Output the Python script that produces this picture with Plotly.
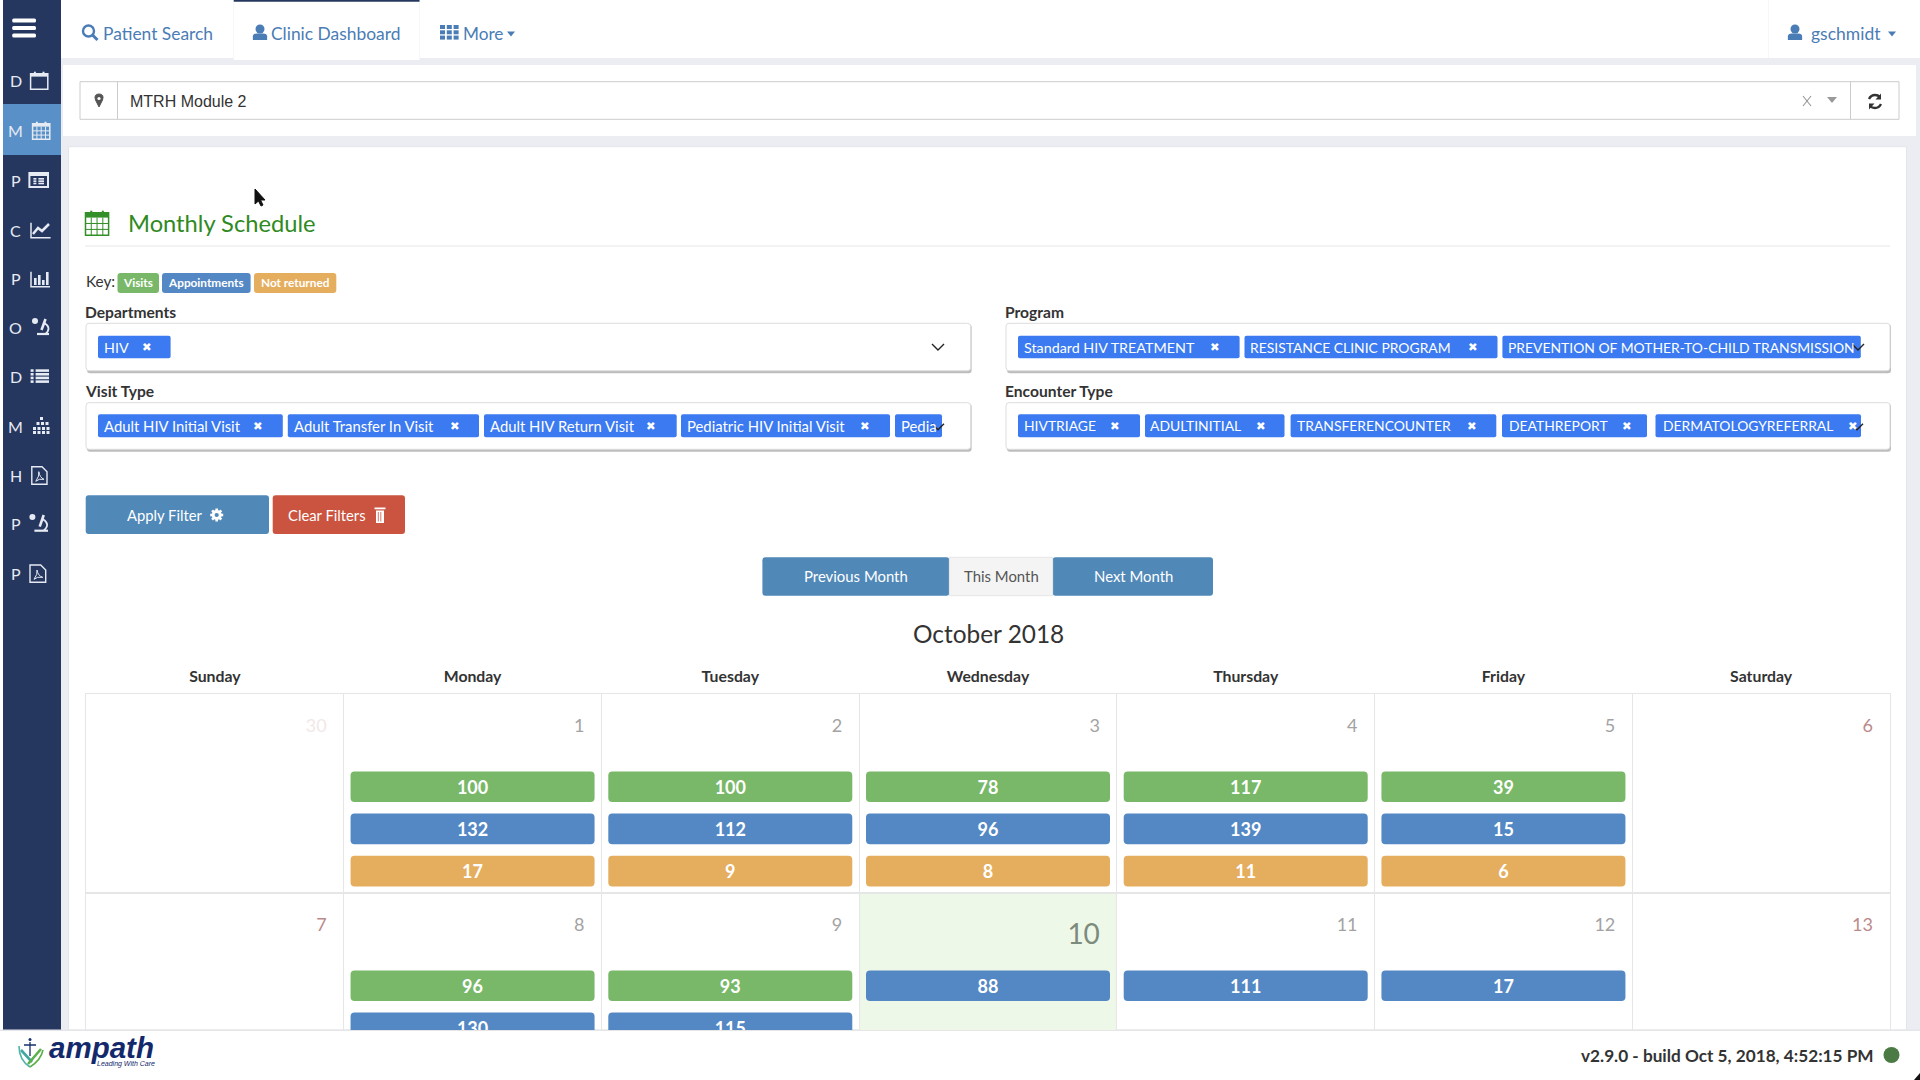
import math
import plotly.graph_objects as go

# ---------- data ----------
weekdays = ["Sunday", "Monday", "Tuesday", "Wednesday", "Thursday", "Friday", "Saturday"]
days = [30, 1, 2, 3, 4, 5, 6, 7, 8, 9, 10, 11, 12, 13]
visits = [None, 100, 100, 78, 117, 39, None, None, 96, 93, None, None, None, None]
appointments = [None, 132, 112, 96, 139, 15, None, None, 130, 115, 88, 111, 17, None]
not_returned = [None, 17, 9, 8, 11, 6, None, None, None, None, None, None, None, None]
today = 10
nav_items = ["Patient Search", "Clinic Dashboard", "More"]
side_letters = ["D", "M", "P", "C", "P", "O", "D", "M", "H", "P", "P"]
departments = ["HIV"]
programs = ["Standard HIV TREATMENT", "RESISTANCE CLINIC PROGRAM", "PREVENTION OF MOTHER-TO-CHILD TRANSMISSION"]
visit_types = ["Adult HIV Initial Visit", "Adult Transfer In Visit", "Adult HIV Return Visit", "Pediatric HIV Initial Visit", "Pedia"]
encounter_types = ["HIVTRIAGE", "ADULTINITIAL", "TRANSFERENCOUNTER", "DEATHREPORT", "DERMATOLOGYREFERRAL"]

# ---------- style ----------
FONT = "Lato"
NAVY = "#26375f"
LINK = "#4a7cb5"
GREEN = "#78b868"
BLUE = "#5488c4"
ORANGE = "#e5ae5f"
TAG = "#3b7af0"
BTN = "#5088b8"
RED = "#ca5440"
GRID = "#e6e6e6"
SIDE = "#e6ebf3"

shapes, notes = [], []


def rr(x0, y0, x1, y1, fill, line=None, lw=0, r=0):
    if r:
        p = (f"M{x0+r},{y0} L{x1-r},{y0} Q{x1},{y0} {x1},{y0+r} L{x1},{y1-r} Q{x1},{y1} {x1-r},{y1} "
             f"L{x0+r},{y1} Q{x0},{y1} {x0},{y1-r} L{x0},{y0+r} Q{x0},{y0} {x0+r},{y0} Z")
    else:
        p = f"M{x0},{y0} L{x1},{y0} L{x1},{y1} L{x0},{y1} Z"
    shapes.append(dict(type="path", path=p, xref="x", yref="y", layer="below", fillcolor=fill,
                       line=dict(color=line or "rgba(0,0,0,0)", width=lw)))


def pth(p, color, lw=1.5, fill=None):
    shapes.append(dict(type="path", path=p, xref="x", yref="y", layer="above",
                       fillcolor=fill or "rgba(0,0,0,0)", line=dict(color=color if lw else "rgba(0,0,0,0)", width=lw)))


def circ(cx, cy, r, fillc=None, line=None, lw=0):
    shapes.append(dict(type="circle", xref="x", yref="y", layer="above", x0=cx - r, x1=cx + r, y0=cy - r, y1=cy + r,
                       fillcolor=fillc or "rgba(0,0,0,0)", line=dict(color=line or "rgba(0,0,0,0)", width=lw)))


def ln(x0, y0, x1, y1, color, lw=1):
    pth(f"M{x0},{y0} L{x1},{y1}", color, lw)


def fill(x0, y0, x1, y1, color):
    pth(f"M{x0},{y0} L{x1},{y0} L{x1},{y1} L{x0},{y1} Z", color, 0, color)


def txt(x, y, s, size=16, color="#333", anchor="left", bold=False, family=FONT, italic=False):
    t = f"<b>{s}</b>" if bold else s
    if italic:
        t = f"<i>{t}</i>"
    notes.append(dict(x=x, y=y, xref="x", yref="y", text=t, showarrow=False, xanchor=anchor, yanchor="middle",
                      font=dict(family=family, size=size, color=color), borderpad=0, borderwidth=0))


def cal(x0, y0, x1, y1, c, grid=True):
    pth(f"M{x0},{y0+2} L{x1},{y0+2} L{x1},{y1} L{x0},{y1} Z", c, 1.5)
    fill(x0, y0 + 2, x1, y0 + (y1 - y0) * .28, c)
    ln(x0 + (x1 - x0) * .25, y0, x0 + (x1 - x0) * .25, y0 + 4, c, 2)
    ln(x0 + (x1 - x0) * .75, y0, x0 + (x1 - x0) * .75, y0 + 4, c, 2)
    if grid:
        top = y0 + (y1 - y0) * .28
        for k in (1, 2, 3):
            ln(x0 + (x1 - x0) * k / 4, top, x0 + (x1 - x0) * k / 4, y1, c, 1)
        for k in (1, 2):
            ln(x0, top + (y1 - top) * k / 3, x1, top + (y1 - top) * k / 3, c, 1)


def lst(x0, y0, x1, y1, c, box=False):
    n = 4 if not box else 3
    if box:
        pth(f"M{x0},{y0} L{x1},{y0} L{x1},{y1} L{x0},{y1} Z", c, 2)
        fill(x0, y0, x1, y0 + 3, c)
    pad = 4 if box else 0
    top = y0 + (5 if box else 0)
    h = (y1 - pad * .5 - top) / n
    for k in range(n):
        fill(x0 + pad, top + k * h, x0 + pad + 3, top + k * h + h * .7, c)
        fill(x0 + pad + 5, top + k * h, x1 - pad, top + k * h + h * .7, c)


def pdf(x0, y0, x1, y1, c):
    pth(f"M{x0},{y0} L{x1-5},{y0} L{x1},{y0+5} L{x1},{y1} L{x0},{y1} Z", c, 1.4)
    pth(f"M{x0+4},{y1-3} Q{x0+8},{y0+9} {x0+7},{y0+5} Q{x0+8},{y0+11} {x1-3},{y1-5} Q{x0+7},{y1-6} {x0+4},{y1-3}", c, 1)


def scope(x0, y0, x1, y1, c):
    xm = (x0 + x1) / 2
    ln(x0 + 5, y1 - 1, x1, y1 - 1, c, 2.2)
    pth(f"M{xm+4},{y0+5} Q{x1+3},{y0+10} {xm+5},{y1-1}", c, 1.8)
    ln(xm + 5, y0 + 1, xm + 1, y1 - 5, c, 2.6)
    circ(x0 + 3, y0 + 3, 3, c)


def caret(x, y, c, s=4):
    pth(f"M{x-s},{y-s*.6} L{x+s},{y-s*.6} L{x},{y+s*.6} Z", c, 0, c)


def user(cx, top, bottom, c):
    w = (bottom - top) * .46
    circ(cx, top + 4.5, 4.5, c)
    pth(f"M{cx-w},{bottom} L{cx-w},{top+12} Q{cx-w},{top+9} {cx-3},{top+9} L{cx+3},{top+9} Q{cx+w},{top+9} {cx+w},{top+12} L{cx+w},{bottom} Z", c, 0, c)


def gear(cx, cy, r, c, hole):
    for a in range(0, 180, 45):
        dx, dy = math.cos(math.radians(a)) * (r + 1.5), math.sin(math.radians(a)) * (r + 1.5)
        ln(cx - dx, cy - dy, cx + dx, cy + dy, c, 2.6)
    circ(cx, cy, r, c)
    circ(cx, cy, r * .42, hole)


def tag(x0, x1, y0, y1, s, tx, cx=None, size=14.3):
    rr(x0, y0, x1, y1, TAG, r=2)
    txt(tx, (y0 + y1) / 2, s, size, "#fff")
    if cx is not None:
        txt(cx, (y0 + y1) / 2, "✖", 11.5, "#fff", "center", family="DejaVu Sans")


def chev(x, y):
    pth(f"M{x-6},{y-3} L{x},{y+3} L{x+6},{y-3}", "#222", 1.4)


def box(x0, y0, x1, y1):
    rr(x0 + 1, y0 + 1, x1 + 1, y1 + 2.5, "#bdbdbd", r=3)
    rr(x0, y0, x1, y1, "#fff", "#dddddd", 1, r=3)


# ---------- page chrome ----------
rr(0, 0, 1920, 1080, "#ebedf2")
rr(0, 0, 3, 1030, "#ffffff")
rr(3, 0, 61, 1030, NAVY)
rr(61, 0, 1920, 58, "#ffffff")
rr(233.5, 0, 420, 60, "#ffffff")
rr(233.5, 0, 420, 1.8, NAVY)
rr(233.5, 0, 234, 60, "#eef0f4")
rr(419.5, 0, 420, 60, "#eef0f4")
rr(1768.5, 0, 1769, 58, "#eef0f4")
rr(63, 65, 1916, 136, "#ffffff")
rr(68.6, 146.7, 1906.5, 1030, "#ffffff", "#e2e5ea", 1)
rr(3, 104, 61, 155, "#5a90c8")
rr(80, 81.7, 1899, 119.3, "#ffffff", "#cccccc", 1)
rr(117, 81.7, 118, 119.3, "#cccccc")
rr(1850, 81.7, 1851, 119.3, "#cccccc")
rr(85, 245.5, 1890, 246.5, "#e8e8e8")
rr(0, 1030, 1920, 1080, "#ffffff")
rr(0, 1029.5, 1920, 1031, "#e4e6ea")

# nav
circ(88.5, 31, 5.5, None, LINK, 2.4)
ln(92.5, 35, 97.5, 40, LINK, 3)
txt(103, 33, nav_items[0], 17.4, LINK)
user(260, 24.5, 40, LINK)
txt(271, 33, nav_items[1], 17.4, LINK)
for i in range(3):
    for j in range(3):
        fill(440 + i * 6.8, 25 + j * 5.3, 445 + i * 6.8, 29 + j * 5.3, LINK)
txt(463, 33, nav_items[2], 17.2, LINK)
caret(511, 34, LINK)
user(1795, 24.5, 40, LINK)
txt(1811, 33, "gschmidt", 17.5, LINK)
caret(1892, 34, LINK)

# location bar
pth("M99,107 L95.5,100 Q93.5,94 99,94 Q104.5,94 102.5,100 Z", "#555", 1, "#555")
circ(99, 98.5, 1.6, "#fff")
txt(130, 101, "MTRH Module 2", 16, "#333", family="Liberation Sans")
ln(1803, 96, 1811, 106, "#999", 1.2)
ln(1811, 96, 1803, 106, "#999", 1.2)
caret(1832, 100, "#999", 5)
pth("M1869,99 Q1871,95 1875,95 Q1878,95 1880,97", "#333", 2.4)
pth("M1881,104 Q1879,108 1875,108 Q1872,108 1870,106", "#333", 2.4)
pth("M1881,93.5 L1881,99.5 L1875.5,99.5 Z", "#333", 0, "#333")
pth("M1869,109.5 L1869,103.5 L1874.5,103.5 Z", "#333", 0, "#333")

# sidebar
rows_y = [80, 130, 180, 230, 278, 327, 376, 426, 475, 523, 573]
for L, yy in zip(side_letters, rows_y):
    txt(15.5, yy, L, 16, SIDE, "center")
for k in range(3):
    rr(12.2, 18.5 + k * 7.5, 36, 22.5 + k * 7.5, "#ffffff", r=1.5)
cal(30.6, 71.7, 47.8, 89.3, SIDE, grid=False)
cal(32.6, 121.7, 49.8, 139.3, SIDE)
lst(29.4, 173, 48, 187, SIDE, box=True)
pth("M31,222.7 L31,237.7 L50.6,237.7", SIDE, 1.5)
pth("M33,234 L38,228 L42,231 L49,224", SIDE, 2.5)
pth("M31,271.7 L31,286.7 L50,286.7", SIDE, 1.5)
for bx, bh in zip((34, 38, 42, 46), (7, 10, 5, 13)):
    fill(bx, 285 - bh, bx + 2.6, 285, SIDE)
scope(32, 318, 49, 335, SIDE)
lst(30.6, 369.3, 49, 384, SIDE)
for cx0, cy0 in ((40, 417), (36.5, 422), (41, 422), (45.5, 422), (33, 427), (37.5, 427), (42, 427), (46.5, 427), (33, 431), (37.5, 431), (42, 431), (46.5, 431)):
    fill(cx0, cy0, cx0 + 3, cy0 + 3, SIDE)
pdf(31.8, 466.7, 47, 484.3, SIDE)
scope(29.4, 514, 48, 531.7, SIDE)
pdf(30, 565, 45.7, 582.3, SIDE)

# title
TITLE = "#2f8a22"
cal(85.5, 210.7, 108.6, 235.3, "#338f27")
txt(128, 223, "Monthly Schedule", 23.7, TITLE)

# mouse cursor
pth("M255,189 L255,204 L258.5,201 L261,206 L263,205 L260.5,200 L265,200 Z", "#111", 1, "#111")

# key
txt(85.5, 281, "Key:", 15.3)
rr(117.5, 273, 159, 293, GREEN, r=3)
txt(138.2, 282.3, "Visits", 11.8, "#fff", "center", True)
rr(162, 273, 250.6, 293, BLUE, r=3)
txt(206.3, 282.3, "Appointments", 11.8, "#fff", "center", True)
rr(254, 273, 336.3, 293, ORANGE, r=3)
txt(295.2, 282.3, "Not returned", 11.8, "#fff", "center", True)

# filters
txt(85, 312.3, "Departments", 15.6, "#333", bold=True)
txt(1004.7, 312.3, "Program", 15.6, "#333", bold=True)
txt(85, 391, "Visit Type", 15.6, "#333", bold=True)
txt(1004.7, 391, "Encounter Type", 15.6, "#333", bold=True)
box(86, 323.3, 970.6, 370.7)
box(1006, 323.3, 1890, 370.7)
box(86, 402.7, 970.6, 449.3)
box(1006, 402.7, 1890, 449.3)

Y1, Y2 = 335.7, 358.3
CAPS = 13.9
MIXED = 14.85
tag(98, 170.6, Y1, Y2, departments[0], 104, 146.5)
tag(1018, 1239.6, Y1, Y2, programs[0], 1023.7, 1215)
tag(1244.5, 1497.5, Y1, Y2, programs[1], 1250, 1473, CAPS)
tag(1502.4, 1860.8, Y1, Y2, programs[2], 1508, None, CAPS)
chev(938, 347)
chev(1858, 347)

Y1, Y2 = 414.3, 437.3
tag(98, 282.8, Y1, Y2, visit_types[0], 104, 258, MIXED)
tag(287.8, 479, Y1, Y2, visit_types[1], 294, 454.7, MIXED)
tag(484, 676.7, Y1, Y2, visit_types[2], 490, 651.4, MIXED)
tag(681, 890, Y1, Y2, visit_types[3], 687, 865, MIXED)
tag(895, 942, Y1, Y2, visit_types[4], 901, None, MIXED)
chev(938, 426.7)
tag(1018, 1140, Y1, Y2, encounter_types[0], 1024, 1114.7, CAPS)
tag(1145, 1284.5, Y1, Y2, encounter_types[1], 1150, 1261, CAPS)
tag(1290.6, 1496.3, Y1, Y2, encounter_types[2], 1297, 1472, CAPS)
tag(1502, 1647, Y1, Y2, encounter_types[3], 1508.5, 1627, CAPS)
tag(1655.5, 1861, Y1, Y2, encounter_types[4], 1663, 1852.6, CAPS)
chev(1857, 426.7)

# buttons
rr(85.7, 495.3, 269, 534, BTN, r=3)
txt(165.4, 515, "Apply Filter", 14.8, "#fff", "center")
gear(216.7, 515, 5, "#fff", BTN)
rr(272.7, 495.3, 405, 534, RED, r=3)
txt(327, 515, "Clear Filters", 14.8, "#fff", "center")
fill(376, 510.5, 384, 523, "#fff")
fill(374.5, 507.5, 385.5, 509.3, "#fff")
for sx in (378.3, 380.8):
    ln(sx, 512, sx, 521.5, RED, .8)

rr(762.4, 557.3, 949.4, 595.7, BTN, r=3)
rr(1052.6, 557.3, 1213, 595.7, BTN, r=3)
rr(949.4, 557.3, 1052.6, 595.7, "#f4f4f4", "#e6e6e6", 1)
txt(856, 576, "Previous Month", 14.9, "#fff", "center")
txt(1001.6, 576, "This Month", 14.9, "#555", "center")
txt(1133, 576, "Next Month", 14.9, "#fff", "center")
txt(988, 633, "October 2018", 24.4, "#333", "center")

# footer
circ(30, 1039.5, 1.5, "#16306e")
pth("M30,1042 L30,1056 M24,1045 L36,1045", "#16306e", 1.3)
pth("M19,1046 Q19,1060 30,1067", "#4fb3a8", 1.6)
pth("M30,1067 Q41,1060 43,1050", "#5bb04a", 1.6)
pth("M21,1050 L32,1062", "#3fa8a0", 2.6)
pth("M41,1049 L28,1064", "#5bb04a", 2.6)
txt(49, 1047, "ampath", 29.5, "#13296b", bold=True, italic=True, family="Liberation Sans")
txt(97, 1064, "Leading With Care", 7, "#13296b", italic=True, family="Liberation Sans")
txt(1874, 1055, "v2.9.0 - build Oct 5, 2018, 4:52:15 PM", 17.2, "#333", "right", True)
circ(1891.5, 1055, 8, "#4c7a45")
pth("M1920,1073 L1920,1080 L1914,1080 Z", "#111", 0, "#111")

# ---------- calendar, on its own axes: columns are weekdays, rows are weeks ----------
COL_W = (1890 - 86) / 7
ROW_H = 199.0
PILL_H = 30.6 / ROW_H
PILL_W = 244 / COL_W
PILL_TOP = 77.4 / ROW_H
PILL_STEP = 42.2 / ROW_H
TEXT_NUDGE = 2.4 / ROW_H


def slots(series):
    """x, base and label of each pill; empty series in a day leave no gap."""
    out = {id(s): ([], [], []) for s in series}
    for i in range(len(days)):
        n = 0
        for s in series:
            if s[i] is None:
                continue
            xs, bs, ls = out[id(s)]
            xs.append(i % 7 + .5)
            bs.append(i // 7 + PILL_TOP + n * PILL_STEP)
            ls.append(str(s[i]))
            n += 1
    return [out[id(s)] for s in series]


fig = go.Figure()
series = [visits, appointments, not_returned]
for (xs, bs, ls), col, name in zip(slots(series), (GREEN, BLUE, ORANGE), ("Visits", "Appointments", "Not returned")):
    fig.add_trace(go.Bar(x=xs, y=[PILL_H] * len(xs), base=bs, width=PILL_W, name=name, xaxis="x2", yaxis="y2",
                         marker=dict(color=col, cornerradius=4, line=dict(width=0)), hoverinfo="skip", showlegend=False))
    fig.add_trace(go.Scatter(x=xs, y=[b + PILL_H / 2 + TEXT_NUDGE for b in bs], text=ls, mode="text", xaxis="x2", yaxis="y2",
                             textfont=dict(family=FONT, size=18, color="#fff", weight=700), textposition="middle center",
                             hoverinfo="skip", showlegend=False, cliponaxis=True))

RIGHT = 1 - 17 / COL_W
for kind in ("past", "plain", "weekend", "today"):
    xs, ys, ls = [], [], []
    for i, d in enumerate(days):
        k = "past" if i == 0 else "today" if d == today else "weekend" if i % 7 in (0, 6) else "plain"
        if k == kind:
            xs.append(i % 7 + RIGHT)
            ys.append(i // 7 + (.222 if k == "today" else .169))
            ls.append(str(d))
    fig.add_trace(go.Scatter(x=xs, y=ys, text=ls, mode="text", xaxis="x2", yaxis="y2", textposition="middle left",
                             textfont=dict(family=FONT, size=28 if kind == "today" else 18,
                                           color={"past": "#f1e8e8", "plain": "#a3a3a3", "weekend": "#bb8a8a", "today": "#7d8b7d"}[kind]),
                             hoverinfo="skip", showlegend=False))

ti = days.index(today)
shapes.append(dict(type="rect", xref="x2", yref="y2", x0=ti % 7, x1=ti % 7 + 1, y0=ti // 7, y1=ti // 7 + 2,
                   fillcolor="#edf8e9", line=dict(width=0), layer="below"))

fig.update_layout(
    width=1920, height=1080, autosize=False, margin=dict(l=0, r=0, t=0, b=0),
    paper_bgcolor="#ffffff", plot_bgcolor="rgba(0,0,0,0)", barmode="overlay", showlegend=False,
    font=dict(family=FONT), shapes=shapes, annotations=notes,
    xaxis=dict(range=[0, 1920], domain=[0, 1], visible=False, fixedrange=True),
    yaxis=dict(range=[1080, 0], domain=[0, 1], visible=False, fixedrange=True),
    xaxis2=dict(domain=[86 / 1920, 1890 / 1920], range=[0, 7], anchor="y2", side="top", showgrid=False, zeroline=False,
                tickvals=[i + .5 for i in range(7)], ticktext=[f"<b>{w}</b>" for w in weekdays], ticks="",
                tickfont=dict(family=FONT, size=15.8, color="#333"), ticklabelstandoff=4,
                minor=dict(showgrid=True, tickvals=list(range(8)), gridcolor=GRID, gridwidth=1.2, ticks=""),
                showline=True, linecolor=GRID, linewidth=1.2, mirror=True, fixedrange=True),
    yaxis2=dict(domain=[1 - 1030 / 1080, 1 - 694 / 1080], range=[336 / ROW_H, 0], anchor="x2", showticklabels=False,
                tickvals=[0, 1], ticks="", showgrid=True, gridcolor=GRID, gridwidth=1.2, zeroline=False,
                showline=True, linecolor=GRID, linewidth=1.2, mirror=True, fixedrange=True),
)

fig.write_html("out.html", config=dict(displayModeBar=False, staticPlot=True),
               post_script="document.body.style.margin='0';document.body.style.overflow='hidden';")
